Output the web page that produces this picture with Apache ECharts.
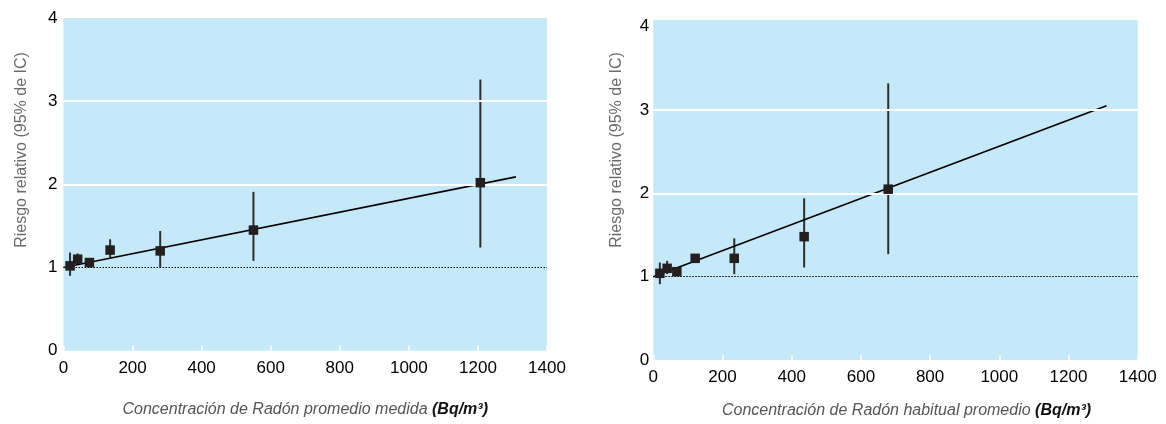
<!DOCTYPE html>
<html>
<head>
<meta charset="utf-8">
<script src="https://cdn.jsdelivr.net/npm/echarts@6/dist/echarts.min.js"></script>
<style>
html,body{margin:0;padding:0;background:#fff;}
#c{width:1166px;height:424px;}
</style>
</head>
<body>
<div id="c"></div>
<script>
// ---- data ----
const xTicks = [0, 200, 400, 600, 800, 1000, 1200, 1400];
const yTicks = [0, 1, 2, 3, 4];

// Left panel: measured average radon concentration
const leftX  = [19, 41, 75, 135, 280, 550, 1207];
const leftRR = [1.02, 1.10, 1.06, 1.21, 1.20, 1.45, 2.02];
const leftLo = [0.90, 1.04, 1.00, 1.12, 1.00, 1.08, 1.24];
const leftHi = [1.18, 1.17, 1.09, 1.34, 1.44, 1.91, 3.26];
const leftFitX = [0, 1310];
const leftFitY = [1.0, 2.09];

// Right panel: usual average radon concentration
const rightX  = [19, 40, 68, 121, 234, 436, 679];
const rightRR = [1.04, 1.10, 1.06, 1.22, 1.22, 1.48, 2.05];
const rightLo = [0.91, 1.03, 1.01, 1.18, 1.03, 1.11, 1.27];
const rightHi = [1.17, 1.19, 1.10, 1.25, 1.46, 1.94, 3.32];
const rightFitX = [0, 1310];
const rightFitY = [1.0, 3.05];

const refLine = [1];        // dotted reference at RR = 1
const whiteLines = [2, 3];  // white horizontal guide lines

const yName = 'Riesgo relativo (95% de IC)';
const xNameLeft = 'Concentración de Radón promedio medida';
const xNameRight = 'Concentración de Radón habitual promedio';
const unitText = '(Bq/m³)';

// ---- build ----
const FONT = "'Liberation Sans', Arial, sans-serif";
const BLUE = '#c5e9f8';

function pts(xs, ys){ return xs.map((x,i)=>[x, ys[i]]); }
function bars(xs, lo, hi){ return xs.map((x,i)=>[x, lo[i], hi[i]]); }

function xAxisDef(gi, name, padLeft, gap){
  return {
    type:'value', gridIndex:gi, min:xTicks[0], max:xTicks[xTicks.length-1], interval:200,
    axisLine:{show:false},
    axisTick:{show:true, inside:true, length:5, lineStyle:{color:'#ffffff', width:1.5}},
    splitLine:{show:false},
    axisLabel:{fontFamily:FONT, fontSize:17, color:'#000', margin:9,
      formatter:(v)=> String(v)},
    name:'{n|'+name+' }{u|'+unitText+'}',
    nameLocation:'middle', nameGap:gap,
    nameTextStyle:{
      padding:[0,0,0,padLeft],
      rich:{
        n:{fontFamily:FONT, fontSize:16, fontStyle:'italic', color:'#555'},
        u:{fontFamily:FONT, fontSize:16, fontStyle:'italic', fontWeight:'bold', color:'#111'}
      }
    }
  };
}
function yAxisDef(gi, max, margin){
  return {
    type:'value', gridIndex:gi, min:yTicks[0], max:max, interval:1,
    axisLine:{show:false}, axisTick:{show:false}, splitLine:{show:false},
    axisLabel:{fontFamily:FONT, fontSize:17, color:'#000', margin:margin,
      formatter:(v)=> yTicks.indexOf(v) >= 0 ? String(v) : ''}
  };
}

function panelSeries(gi, xs, rr, lo, hi, fx, fy){
  return [
    { type:'line', xAxisIndex:gi, yAxisIndex:gi, data:[], silent:true, z:1,
      markLine:{silent:true, symbol:['none','none'], label:{show:false},
        lineStyle:{color:'#ffffff', width:2, type:'solid'},
        data: whiteLines.map(v=>({yAxis:v}))}
    },
    { type:'line', xAxisIndex:gi, yAxisIndex:gi, data:[], silent:true, z:2,
      markLine:{silent:true, symbol:['none','none'], label:{show:false},
        lineStyle:{color:'#000000', width:1, type:[1.5,1.5]},
        data: refLine.map(v=>({yAxis:v}))}
    },
    { type:'custom', xAxisIndex:gi, yAxisIndex:gi, z:3, silent:true,
      data: bars(xs, lo, hi),
      renderItem:(params, api)=>{
        const a = api.coord([api.value(0), api.value(1)]);
        const b = api.coord([api.value(0), api.value(2)]);
        return {type:'line', shape:{x1:a[0], y1:a[1], x2:b[0], y2:b[1]},
          style:{stroke:'#2e2e2e', lineWidth:2}};
      }
    },
    { type:'line', xAxisIndex:gi, yAxisIndex:gi, z:4, silent:true,
      data: pts(fx, fy), showSymbol:false, symbol:'none',
      lineStyle:{color:'#000', width:1.6}
    },
    { type:'scatter', xAxisIndex:gi, yAxisIndex:gi, z:5, silent:true,
      data: pts(xs, rr), symbol:'rect', symbolSize:9.5,
      itemStyle:{color:'#231f20', opacity:1}
    }
  ];
}

const chart = echarts.init(document.getElementById('c'), null, {renderer:'canvas'});
chart.setOption({
  animation:false,
  backgroundColor:'#ffffff',
  grid:[
    {left:63.5, top:18, width:483.5, height:332.7, show:true, backgroundColor:BLUE, borderWidth:0, containLabel:false},
    {left:653.3, top:20, width:484.4, height:340, show:true, backgroundColor:BLUE, borderWidth:0, containLabel:false}
  ],
  xAxis:[ xAxisDef(0, xNameLeft, 0, 51), xAxisDef(1, xNameRight, 22, 43) ],
  yAxis:[ yAxisDef(0, 4, 6), yAxisDef(1, 4.08, 4) ],
  graphic:[
    {type:'text', x:21.5, y:150, rotation:Math.PI/2,
      style:{text:yName, fontFamily:FONT, fontSize:16, fill:'#6b6b6b', align:'center', verticalAlign:'middle'}},
    {type:'text', x:616.5, y:150, rotation:Math.PI/2,
      style:{text:yName, fontFamily:FONT, fontSize:16, fill:'#6b6b6b', align:'center', verticalAlign:'middle'}}
  ],
  series:[].concat(
    panelSeries(0, leftX, leftRR, leftLo, leftHi, leftFitX, leftFitY),
    panelSeries(1, rightX, rightRR, rightLo, rightHi, rightFitX, rightFitY)
  )
});
</script>
</body>
</html>
